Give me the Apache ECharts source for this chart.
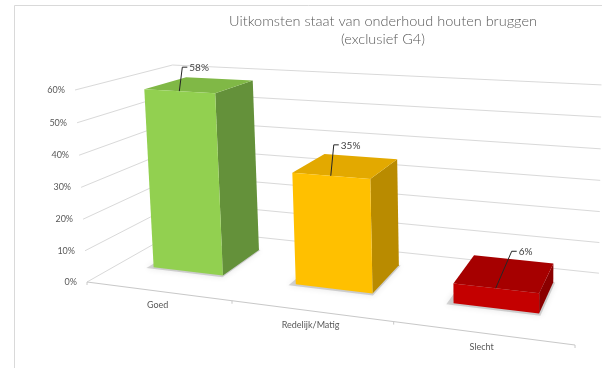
<!DOCTYPE html>
<html>
<head>
<meta charset="utf-8">
<script src="https://cdn.jsdelivr.net/npm/echarts@6/dist/echarts.min.js"></script>
<style>
  html, body { margin: 0; padding: 0; background: #ffffff; }
  #chart { width: 602px; height: 368px; }
</style>
</head>
<body>
<div id="chart"></div>
<script>
// ---- data ----
const categories = ['Goed', 'Redelijk/Matig', 'Slecht'];
const shares = [58, 35, 6];
const valueTicks = [0, 10, 20, 30, 40, 50, 60];
const tickLabels = ['0%', '10%', '20%', '30%', '40%', '50%', '60%'];
const barLabels = ['58%', '35%', '6%'];

// ---- styling / layout ----
const faceColors = [
  { front: '#92D050', top: '#80B846', side: '#64913A' },
  { front: '#FFC000', top: '#E3A900', side: '#B98B00' },
  { front: '#C40000', top: '#A60000', side: '#8A0000' }
];
const labelLeader = [[3, -24], [3, -31], [16, -37]];
const BAR_WIDTH = 0.5;           // share of a category band
const BAR_DEPTH = [0.32, 0.78];  // front / back of the columns inside the floor depth
const FONT = 'Lato, "Open Sans", sans-serif';
const TEXT = '#595959';
const GRID = '#D9D9D9';

// Perspective view of the unit box: u runs along the categories, v up the value axis,
// w from the front edge of the floor to the back wall.
const VIEW = {
  x: [399.2, -14.08, 125, 87],
  y: [9.7, -194.5, -12.9, 282],
  h: [-0.1545, -0.0278, 0.175, 1]
};
function project(u, v, w) {
  const h = VIEW.h[0] * u + VIEW.h[1] * v + VIEW.h[2] * w + VIEW.h[3];
  return [
    (VIEW.x[0] * u + VIEW.x[1] * v + VIEW.x[2] * w + VIEW.x[3]) / h,
    (VIEW.y[0] * u + VIEW.y[1] * v + VIEW.y[2] * w + VIEW.y[3]) / h
  ];
}
// category index / value -> unit box coordinates, through the cartesian axes
function toUnit(params, api, cat, val) {
  const cs = params.coordSys;
  const p = api.coord([cat, val]);
  return [(p[0] - cs.x) / cs.width, (cs.y + cs.height - p[1]) / cs.height];
}
function bandWidth(params, api) {
  return api.size([1, 0])[0] / params.coordSys.width;
}
function poly(pts, style) {
  return { type: 'polygon', shape: { points: pts }, style: typeof style === 'string' ? { fill: style } : style };
}
function seg(a, b, color, width) {
  return {
    type: 'line',
    shape: { x1: a[0], y1: a[1], x2: b[0], y2: b[1] },
    style: { stroke: color, lineWidth: width || 1, fill: null }
  };
}
function label(x, y, text, align, size, color, weight) {
  return {
    type: 'text', x: x, y: y,
    style: {
      text: text, fill: color || TEXT, font: (weight || 'normal') + ' ' + (size || 9) + 'px ' + FONT,
      align: align, verticalAlign: 'middle', textAlign: align, textVerticalAlign: 'middle'
    }
  };
}

// walls: side-wall and back-wall gridlines with the percentage labels
function renderWalls(params, api) {
  const t = api.value(1);
  const v = toUnit(params, api, 0, t)[1];
  const front = project(0, v, 0);
  const corner = project(0, v, 1);
  const right = project(1, v, 1);
  return {
    type: 'group',
    children: [
      seg(front, corner, GRID),
      seg(corner, right, GRID),
      label(front[0] - 10, front[1], tickLabels[params.dataIndex], 'right', 9)
    ]
  };
}

// floor front edge, category ticks and names
function renderCategoryAxis(params, api) {
  const i = params.dataIndex;
  const band = bandWidth(params, api);
  const uc = toUnit(params, api, i, 0)[0];
  const kids = [];
  if (i === 0) kids.push(seg(project(0, 0, 0), project(1, 0, 0), '#C8C8C8'));
  const edges = i === categories.length - 1 ? [uc - band / 2, uc + band / 2] : [uc - band / 2];
  edges.forEach(function (u) {
    const p = project(u, 0, 0);
    kids.push(seg(p, [p[0], p[1] + 3], '#C8C8C8'));
  });
  const c = project(uc, 0, 0);
  kids.push(label(c[0], c[1] + 14, categories[i], 'center', 9));
  return { type: 'group', children: kids };
}

// columns drawn as boxes in the perspective view
function renderColumns(params, api) {
  const i = params.dataIndex;
  const band = bandWidth(params, api);
  const uv = toUnit(params, api, api.value(0), api.value(1));
  const uc = uv[0], v = uv[1];
  const u0 = uc - band * BAR_WIDTH / 2, u1 = uc + band * BAR_WIDTH / 2;
  const w0 = BAR_DEPTH[0], w1 = BAR_DEPTH[1];
  const col = faceColors[i];
  const P = project;
  const shadow = poly(
    [P(u0 - 0.012, 0, w0 - 0.025), P(u1 + 0.004, 0, w0 - 0.025), P(u1 + 0.004, 0, w1), P(u0 - 0.012, 0, w1)],
    { fill: 'rgba(110,110,110,0.28)', shadowBlur: 6, shadowColor: 'rgba(0,0,0,0.35)' }
  );
  const side = poly([P(u1, 0, w0), P(u1, 0, w1), P(u1, v, w1), P(u1, v, w0)], col.side);
  const top = poly([P(u0, v, w0), P(u1, v, w0), P(u1, v, w1), P(u0, v, w1)], col.top);
  const front = poly([P(u0, 0, w0), P(u1, 0, w0), P(u1, v, w0), P(u0, v, w0)], col.front);

  const a = P(uc, v, w0);
  const off = labelLeader[i];
  const b = [a[0] + off[0], a[1] + off[1]];
  const c = [b[0] + 5, b[1]];
  const leader = {
    type: 'polyline',
    shape: { points: [a, b, c] },
    style: { stroke: '#262626', lineWidth: 1, fill: null }
  };
  return {
    type: 'group',
    children: [shadow, side, top, front, leader, label(c[0] + 2, c[1] + 1, barLabels[i], 'left', 10, '#404040')]
  };
}

const chart = echarts.init(document.getElementById('chart'), null, { renderer: 'canvas' });
chart.setOption({
  animation: false,
  backgroundColor: '#ffffff',
  title: {
    text: 'Uitkomsten staat van onderhoud houten bruggen\n(exclusief G4)',
    left: 378,
    top: 7,
    textAlign: 'center',
    textStyle: { fontFamily: FONT, fontSize: 14.5, fontWeight: 300, color: TEXT, lineHeight: 18, align: 'center' }
  },
  graphic: [{
    type: 'rect',
    shape: { x: 14.5, y: 5.5, width: 620, height: 400 },
    style: { fill: null, stroke: '#D9D9D9', lineWidth: 1 },
    silent: true
  }],
  grid: { left: 0, top: 0, width: 300, height: 300, show: false },
  xAxis: { type: 'category', data: categories, show: false },
  yAxis: { type: 'value', min: 0, max: 60, interval: 10, show: false },
  series: [
    {
      type: 'custom', name: 'walls', z: 1, clip: false, silent: true,
      data: valueTicks.map(function (t) { return [0, t]; }),
      renderItem: renderWalls
    },
    {
      type: 'custom', name: 'categories', z: 2, clip: false, silent: true,
      data: categories.map(function (c, i) { return [i, 0]; }),
      renderItem: renderCategoryAxis
    },
    {
      type: 'custom', name: 'Aandeel', z: 3, clip: false,
      data: shares.map(function (s, i) { return [i, s]; }),
      renderItem: renderColumns
    }
  ]
});
</script>
</body>
</html>
